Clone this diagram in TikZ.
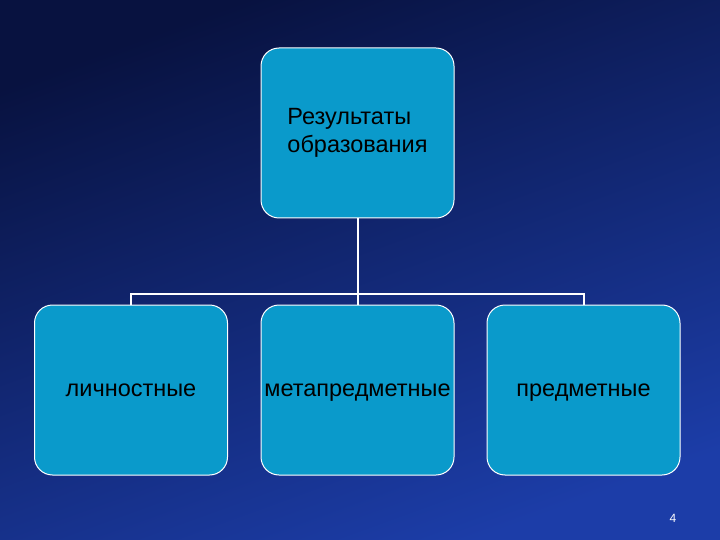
\documentclass[tikz,border=0pt]{standalone}
\usepackage{fontspec}
\setmainfont{Liberation Sans}
\definecolor{bgtop}{HTML}{081240}
\definecolor{bgbot}{HTML}{1C3DA8}
\definecolor{boxc}{HTML}{0A9ACB}
\begin{document}
\begin{tikzpicture}[x=1pt,y=-1pt,
  box/.style={draw=white,line width=1pt,fill=boxc,rounded corners=18pt,minimum width=193pt,minimum height=170pt,inner sep=0pt,font=\fontsize{23.5}{28}\selectfont,text=black},
  lab/.style={font=\fontsize{23.5}{28}\selectfont,text=black,text height=17pt,text depth=5pt,inner sep=0pt},
  conn/.style={draw=white,line width=2pt}]
\shade[top color=bgtop,bottom color=bgbot,shading angle=20] (0,0) rectangle (720,540);
\useasboundingbox (0,0) rectangle (720,540);
\node[box] (top) at (357.5,133) {\begin{tabular}{@{}l@{}}Результаты\\ образования\end{tabular}};
\node[box] (a) at (131,390) {};
\node[box] (b) at (357.5,390) {};
\node[box] (c) at (583.5,390) {};
\node[lab] (la) at (a) {личностные};
\node[lab] (lb) at (b) {метапредметные};
\node[lab] (lc) at (c) {предметные};
\coordinate (j) at (357.5,294);
\draw[conn] (top.south) -- (b.north);
\draw[conn] (a.north) -- (a.north |- j) -- (c.north |- j) -- (c.north);
\node[text=white,font=\fontsize{12}{14}\selectfont] (num) at (673,518) {4};
\end{tikzpicture}
\end{document}
